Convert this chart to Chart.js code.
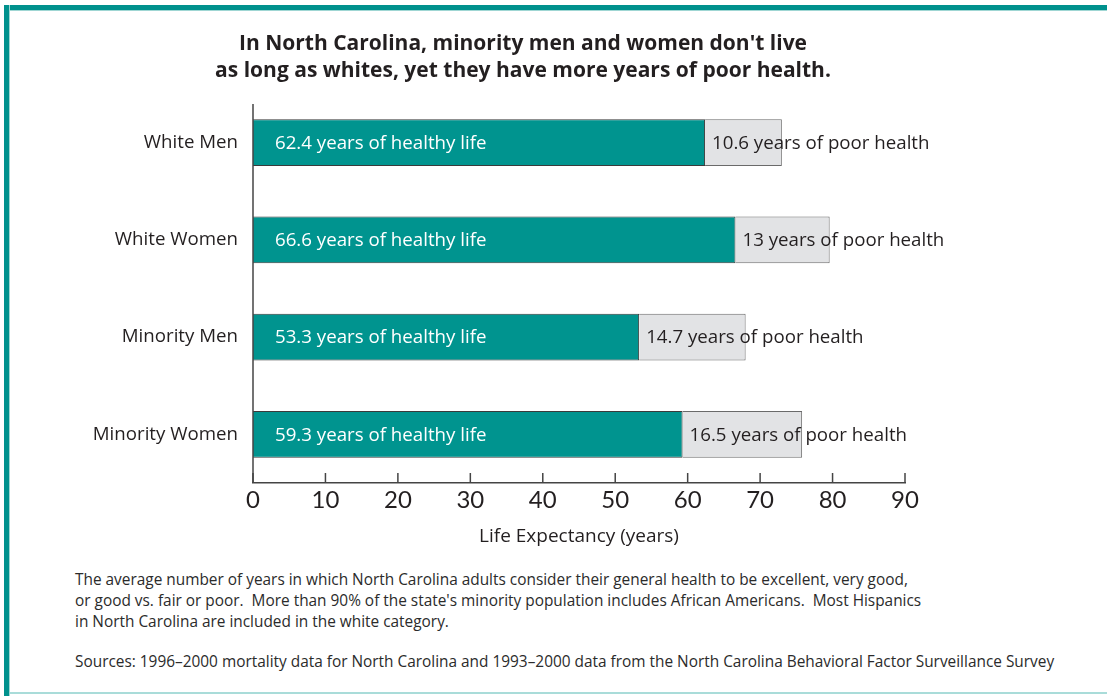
<!DOCTYPE html>
<html>
<head>
<meta charset="utf-8">
<script src="https://cdn.jsdelivr.net/npm/chart.js@4"></script>
<style>
  body { margin: 0; background: #fff; font-family: "Open Sans", Lato, sans-serif; color: #231f20; }
  #wrap { position: relative; width: 1107px; height: 696px; overflow: hidden; }
  #frameTop { position: absolute; left: 4px; top: 5px; width: 1103px; height: 5px; background: #00918d; border-bottom: 1px solid #9fd6d3; }
  #frameLeft { position: absolute; left: 4px; top: 5px; width: 5px; height: 691px; background: #00918d; border-right: 1px solid #9fd6d3; }
  #frameBottom { position: absolute; left: 10px; top: 692px; width: 1097px; height: 2px; background: #a9dcd9; }
  #title { position: absolute; left: 0; width: 1046px; top: 29px; text-align: center; font-weight: bold; font-size: 21px; line-height: 27px; }
  #chartBox { position: absolute; left: 0; top: 0; width: 1107px; height: 552px; }
  .note { position: absolute; left: 75px; font-size: 15.4px; line-height: 21px; color: #2b2b2b; white-space: nowrap; }
</style>
</head>
<body>
<div id="wrap">
  <div id="frameTop"></div>
  <div id="frameLeft"></div>
  <div id="frameBottom"></div>
  <div id="chartBox"><canvas id="grafica" width="1107" height="552"></canvas></div>
  <div id="title">In North Carolina, minority men and women don't live<br>as long as whites, yet they have more years of poor health.</div>
  <div class="note" style="top:569px">The average number of years in which North Carolina adults consider their general health to be excellent, very good,<br>or good vs. fair or poor.&nbsp; More than 90% of the state's minority population includes African Americans.&nbsp; Most Hispanics<br>in North Carolina are included in the white category.</div>
  <div class="note" style="top:651px">Sources: 1996–2000 mortality data for North Carolina and 1993–2000 data from the North Carolina Behavioral Factor Surveillance Survey</div>
</div>
<script>
// datos
const grupos = ['White Men', 'White Women', 'Minority Men', 'Minority Women'];
const aniosSanos = [62.4, 66.6, 53.3, 59.3];
const aniosMalos = [10.6, 13, 14.7, 16.5];
const etiquetasSanos = ['62.4', '66.6', '53.3', '59.3'];
const etiquetasMalos = ['10.6', '13', '14.7', '16.5'];
const ticksX = [0, 10, 20, 30, 40, 50, 60, 70, 80, 90];

const teal = '#00948f';
const gris = '#e2e3e5';
const oscuro = '#231f20';
const fuente = '"Open Sans", Lato, sans-serif';

// etiquetas dentro de las barras + marcas del eje
const etiquetasPlugin = {
  id: 'etiquetas',
  afterDatasetsDraw(chart) {
    const ctx = chart.ctx;
    const x = chart.scales.x;
    const y = chart.scales.y;
    const area = chart.chartArea;
    ctx.save();
    ctx.font = '18.7px ' + fuente;
    ctx.textBaseline = 'middle';
    ctx.textAlign = 'left';
    grupos.forEach((g, i) => {
      const yc = y.getPixelForValue(i) + 1;
      ctx.fillStyle = '#ffffff';
      ctx.fillText(etiquetasSanos[i] + ' years of healthy life', x.getPixelForValue(0) + 22, yc);
      ctx.fillStyle = oscuro;
      ctx.fillText(etiquetasMalos[i] + ' years of poor health', x.getPixelForValue(aniosSanos[i]) + 7, yc);
    });
    // eje y
    ctx.strokeStyle = '#444';
    ctx.lineWidth = 1.5;
    ctx.beginPath();
    ctx.moveTo(area.left, area.top + 10);
    ctx.lineTo(area.left, area.bottom);
    ctx.stroke();
    // marcas hacia arriba en el eje x
    ticksX.forEach(v => {
      const px = x.getPixelForValue(v);
      ctx.beginPath();
      ctx.moveTo(px, area.bottom);
      ctx.lineTo(px, area.bottom - 10);
      ctx.stroke();
    });
    ctx.restore();
  }
};

new Chart(document.getElementById('grafica'), {
  type: 'bar',
  data: {
    labels: grupos,
    datasets: [
      { label: 'Healthy', data: aniosSanos, backgroundColor: teal, borderColor: '#3a3a3a', borderWidth: 1 },
      { label: 'Poor health', data: aniosMalos, backgroundColor: gris, borderColor: '#6a6a6a', borderWidth: 1 }
    ]
  },
  options: {
    indexAxis: 'y',
    responsive: false,
    animation: false,
    layout: { padding: { top: 94, right: 202, left: 0, bottom: 0 } },
    datasets: { bar: { categoryPercentage: 1, barPercentage: 0.48 } },
    plugins: { legend: { display: false }, tooltip: { enabled: false } },
    scales: {
      x: {
        stacked: true,
        min: 0,
        max: 90,
        afterBuildTicks: (s) => { s.ticks = ticksX.map(v => ({ value: v })); },
        afterFit: (s) => { s.height = 69; },
        grid: { display: false, drawTicks: false },
        border: { display: true, color: '#444', width: 1.5 },
        ticks: { color: oscuro, padding: 3, font: { size: 24, family: 'Lato, "Open Sans", sans-serif' } },
        title: {
          display: true,
          text: 'Life Expectancy (years)',
          color: oscuro,
          padding: { top: 4, bottom: 4 },
          font: { size: 19, family: fuente }
        }
      },
      y: {
        stacked: true,
        afterFit: (s) => { s.width = 253; },
        grid: { display: false, drawTicks: false },
        border: { display: false },
        ticks: { color: oscuro, padding: 15, font: { size: 18.7, family: fuente } }
      }
    }
  },
  plugins: [etiquetasPlugin]
});
</script>
</body>
</html>
